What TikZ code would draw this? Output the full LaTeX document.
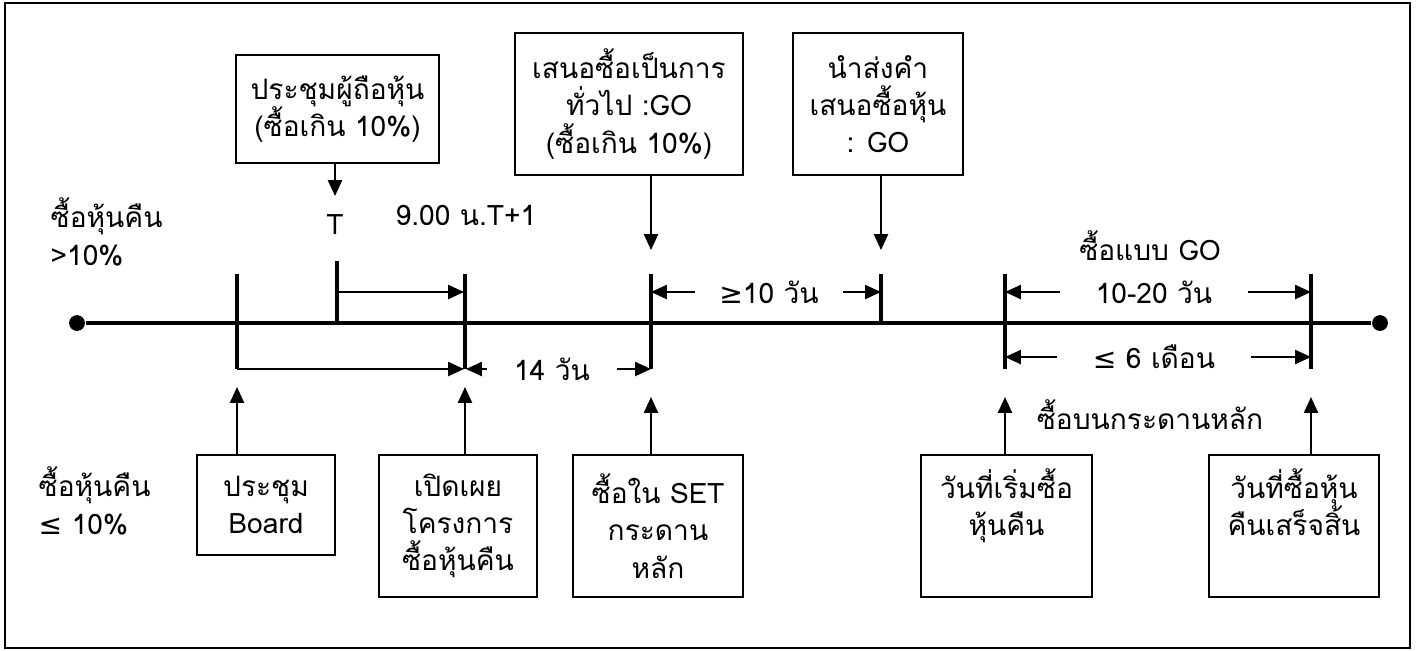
\documentclass[tikz,border=0pt]{standalone}
\usepackage{fontspec}
\setmainfont[Script=Thai]{Loma}
\newfontfamily\symfont{DejaVu Sans}
\usetikzlibrary{arrows.meta, positioning, calc}

\begin{document}
\begin{tikzpicture}[x=0.01cm,y=-0.01cm,
    font=\fontsize{8}{10.6}\selectfont,
    evbox/.style={draw,line width=0.6pt,align=center,inner sep=0pt},
    axis/.style={line width=0.9pt},
    tick/.style={line width=0.9pt},
    pointer/.style={line width=0.5pt,-{Triangle[length=4.5pt,width=4pt]}},
    span/.style={line width=0.5pt,-{Triangle[length=4.5pt,width=4pt]}},
    lbl/.style={inner sep=0pt}]
  \useasboundingbox (0,0) rectangle (1418,650);
  \draw[line width=0.6pt] (5,3) rectangle (1410,648);

  % time line
  \node[circle,fill,inner sep=0pt,minimum size=4.5pt] (begin) at (77,323) {};
  \node[circle,fill,inner sep=0pt,minimum size=4.5pt] (end) at (1380,323) {};
  \draw[axis] (begin) -- (end);

  % ticks
  \coordinate (tB) at (237,323);
  \coordinate (tT) at (337,323);
  \coordinate (tD) at (465,323);
  \coordinate (tG) at (651,323);
  \coordinate (tS) at (881,323);
  \coordinate (tR) at (1005,323);
  \coordinate (tE) at (1311,323);
  \draw[tick] ($(tB)+(0,-49)$) -- ($(tB)+(0,46)$);
  \draw[tick] ($(tT)+(0,-62)$) -- (tT);
  \draw[tick] ($(tD)+(0,-49)$) -- ($(tD)+(0,46)$);
  \draw[tick] ($(tG)+(0,-49)$) -- ($(tG)+(0,46)$);
  \draw[tick] ($(tS)+(0,-49)$) -- (tS);
  \draw[tick] ($(tR)+(0,-49)$) -- ($(tR)+(0,46)$);
  \draw[tick] ($(tE)+(0,-49)$) -- ($(tE)+(0,46)$);

  % boxes above
  \node[evbox,minimum width=2.03cm,minimum height=1.08cm] (mtg) at (337.5,109) {ประชุมผู้ถือหุ้น\\(ซื้อเกิน 10\%)};
  \node[evbox,minimum width=2.28cm,minimum height=1.42cm] (gen) at (629,104) {เสนอซื้อเป็นการ\\ทั่วไป :GO\\(ซื้อเกิน 10\%)};
  \node[evbox,minimum width=1.70cm,minimum height=1.42cm] (send) at (878,104) {นำส่งคำ\\เสนอซื้อหุ้น\\: GO};

  % boxes below
  \node[evbox,minimum width=1.38cm,minimum height=1.00cm] (board) at (266,505) {ประชุม\\Board};
  \node[evbox,minimum width=1.58cm,minimum height=1.42cm] (disc) at (458,526) {เปิดเผย\\โครงการ\\ซื้อหุ้นคืน};
  \node[evbox,minimum width=1.70cm,minimum height=1.42cm] (set) at (658,526) {ซื้อใน SET\\กระดาน\\หลัก};
  \node[evbox,minimum width=1.71cm,minimum height=1.42cm] (start) at (1006.5,526) {วันที่เริ่มซื้อ\\หุ้นคืน\\\strut};
  \node[evbox,minimum width=1.70cm,minimum height=1.42cm] (done) at (1294,526) {วันที่ซื้อหุ้น\\คืนเสร็จสิ้น\\\strut};

  % labels
  \node[lbl,align=left,anchor=west] (more) at (50,232) {ซื้อหุ้นคืน\\>10\%};
  \node[lbl,align=left,anchor=west] (less) at (38,501) {ซื้อหุ้นคืน\\{\symfont ≤} 10\%};
  \node[lbl] (T) at (335,225) {T};
  \coordinate (Ttip) at (335,196);
  \node[lbl] (nine) at (466,215) {9.00 น.T+1};
  \node[lbl] (goby) at (1150,246) {ซื้อแบบ GO};
  \node[lbl] (board2) at (1150,415) {ซื้อบนกระดานหลัก};

  % pointers
  \draw[pointer] (mtg.south -| Ttip) -- (Ttip);
  \draw[pointer] (gen.south -| tG) -- ($(tG)+(0,-73)$);
  \draw[pointer] (send.south -| tS) -- ($(tS)+(0,-73)$);
  \draw[pointer] (board.north -| tB) -- ($(tB)+(0,64)$);
  \draw[pointer] (disc.north -| tD) -- ($(tD)+(0,64)$);
  \draw[pointer] (set.north -| tG) -- ($(tG)+(0,74)$);
  \draw[pointer] (start.north -| tR) -- ($(tR)+(0,74)$);
  \draw[pointer] (done.north -| tE) -- ($(tE)+(0,74)$);

  % spans
  \draw[span] ($(tT)+(0,-31)$) -- ($(tD)+(-1,-31)$);
  \draw[span] ($(tB)+(0,46)$) -- ($(tD)+(-1,46)$);
  \node[lbl,inner xsep=0.26cm] (d14) at (552,369) {14 วัน};
  \draw[span] (d14.west) -- ($(tD)+(1,46)$);
  \draw[span] (d14.east) -- (tG |- d14);
  \node[lbl,inner xsep=0.24cm] (d10) at (769,292) {{\symfont ≥}10 วัน};
  \draw[span] (d10.west) -- (tG |- d10);
  \draw[span] (d10.east) -- (tS |- d10);
  \node[lbl,inner xsep=0.35cm] (d20) at (1154,292) {10-20 วัน};
  \draw[span] (d20.west) -- (tR |- d20);
  \draw[span] (d20.east) -- (tE |- d20);
  \node[lbl,inner xsep=0.35cm] (d6) at (1154,357) {{\symfont ≤} 6 เดือน};
  \draw[span] (d6.west) -- (tR |- d6);
  \draw[span] (d6.east) -- (tE |- d6);
\end{tikzpicture}
\end{document}
